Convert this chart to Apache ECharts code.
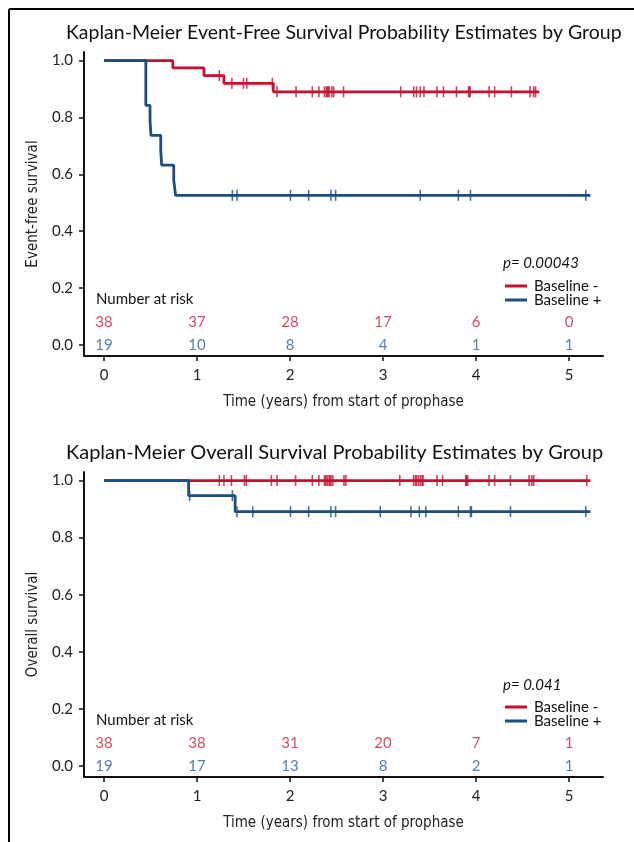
<!DOCTYPE html>
<html><head><meta charset="utf-8">
<script src="https://cdn.jsdelivr.net/npm/echarts@6/dist/echarts.min.js"></script>
<style>html,body{margin:0;padding:0;background:#fff}#c{width:634px;height:842px}</style>
</head><body><div id="c"></div>
<script>
// ---- data ----
const xTicks = [0, 1, 2, 3, 4, 5];
const yTicks = [0, 0.2, 0.4, 0.6, 0.8, 1.0];

// Event-free survival
const efsRedEventT = [0.74, 1.075, 1.29, 1.82];
const efsRedEventS = [0.974, 0.947, 0.920, 0.890];
const efsRedEnd = 4.68;
const efsRedCens = [1.24, 1.375, 1.50, 1.535, 1.81, 1.86, 2.065, 2.24, 2.31, 2.37, 2.39, 2.40, 2.41, 2.42, 2.45, 2.47, 2.575,
  3.19, 3.33, 3.36, 3.40, 3.44, 3.58, 3.65, 3.79, 3.92, 3.93, 3.935, 4.14, 4.20, 4.38, 4.58, 4.62, 4.64];
const efsBlueEventT = [0.45, 0.495, 0.505, 0.61, 0.62, 0.75, 0.77];
const efsBlueEventS = [0.842, 0.789, 0.737, 0.684, 0.632, 0.579, 0.526];
const efsBlueEnd = 5.23;
const efsBlueCens = [1.38, 1.43, 2.005, 2.20, 2.44, 2.49, 3.40, 3.81, 3.94, 5.18];
const efsRiskRed = [38, 37, 28, 17, 6, 0];
const efsRiskBlue = [19, 10, 8, 4, 1, 1];

// Overall survival
const osRedEventT = [];
const osRedEventS = [];
const osRedEnd = 5.23;
const osRedCens = [1.24, 1.29, 1.37, 1.51, 1.53, 1.80, 1.86, 2.06, 2.24, 2.31, 2.37, 2.385, 2.40, 2.42, 2.43, 2.44, 2.46, 2.58, 2.60,
  3.18, 3.33, 3.35, 3.36, 3.38, 3.40, 3.42, 3.43, 3.58, 3.64, 3.89, 3.90, 3.91, 4.14, 4.20, 4.37, 4.57, 4.60, 4.62, 5.19];
const osBlueEventT = [0.91, 1.41];
const osBlueEventS = [0.947, 0.891];
const osBlueEnd = 5.23;
const osBlueCens = [0.92, 1.38, 1.43, 1.60, 2.005, 2.20, 2.44, 2.49, 2.97, 3.30, 3.39, 3.46, 3.81, 3.94, 3.95, 4.37, 5.18];
const osRiskRed = [38, 38, 31, 20, 7, 1];
const osRiskBlue = [19, 17, 13, 8, 2, 1];

const titles = ['Kaplan-Meier Event-Free Survival Probability Estimates by Group',
                'Kaplan-Meier Overall Survival Probability Estimates by Group'];
const yNames = ['Event-free survival', 'Overall survival'];
const xName = 'Time (years) from start of prophase';
const pValues = ['p= 0.00043', 'p= 0.041'];
const legendNames = ['Baseline -', 'Baseline +'];

// ---- styling ----
const RED = '#C8102E', BLUE = '#1B4C82';
const RED_T = '#D01A3C', BLUE_T = '#2B5D98';
const FONT = 'Lato, "Noto Sans", sans-serif';
const NARROW = '"Liberation Sans Narrow", "DejaVu Sans Condensed", sans-serif';

function steps(evT, evS, end) {
  const pts = [[0, 1]];
  for (let i = 0; i < evT.length; i++) pts.push([evT[i], evS[i]]);
  pts.push([end, evS.length ? evS[evS.length - 1] : 1]);
  return pts;
}
function survAt(evT, evS, t) {
  let s = 1;
  for (let i = 0; i < evT.length; i++) if (evT[i] <= t) s = evS[i];
  return s;
}
function cens(evT, evS, times) { return times.map(t => [t, survAt(evT, evS, t)]); }

const groups = [
  {red: [efsRedEventT, efsRedEventS, efsRedEnd, efsRedCens], blue: [efsBlueEventT, efsBlueEventS, efsBlueEnd, efsBlueCens], riskR: efsRiskRed, riskB: efsRiskBlue},
  {red: [osRedEventT, osRedEventS, osRedEnd, osRedCens], blue: [osBlueEventT, osBlueEventS, osBlueEnd, osBlueCens], riskR: osRiskRed, riskB: osRiskBlue}
];

const grids = [{left: 84, right: 31, top: 52, height: 304}, {left: 84, right: 31, top: 472, height: 305}];
const xAxes = [], yAxes = [], series = [];
grids.forEach((g, i) => {
  xAxes.push({
    type: 'value', gridIndex: i, min: -0.215, max: 5.365,
    name: xName, nameLocation: 'middle', nameGap: 39,
    nameTextStyle: {fontFamily: NARROW, fontSize: 15, color: '#222'},
    axisLine: {show: true, onZero: false, lineStyle: {color: '#111', width: 2}},
    axisTick: {show: true, length: 5, inside: false, customValues: xTicks, lineStyle: {color: '#111', width: 1.5}},
    axisLabel: {customValues: xTicks, fontFamily: FONT, fontSize: 15, color: '#222', margin: 12},
    splitLine: {show: false}
  });
  yAxes.push({
    type: 'value', gridIndex: i, min: -0.039, max: 1.03,
    name: yNames[i], nameLocation: 'middle', nameGap: 43, nameRotate: 90,
    nameTextStyle: {fontFamily: NARROW, fontSize: 15, color: '#222'},
    axisLine: {show: true, onZero: false, lineStyle: {color: '#111', width: 2}},
    axisTick: {show: true, length: 5, customValues: yTicks, lineStyle: {color: '#111', width: 1.5}},
    axisLabel: {customValues: yTicks, fontFamily: FONT, fontSize: 15, color: '#222', margin: 11,
      formatter: v => v.toFixed(1)},
    splitLine: {show: false}
  });
  const G = groups[i];
  [['red', RED], ['blue', BLUE]].forEach(([k, col]) => {
    const d = G[k];
    series.push({type: 'line', xAxisIndex: i, yAxisIndex: i, step: 'end', data: steps(d[0], d[1], d[2]),
      showSymbol: false, symbol: 'none', lineStyle: {color: col, width: 2.8}, silent: true, animation: false, z: k === 'blue' ? 3 : 2});
    series.push({type: 'scatter', xAxisIndex: i, yAxisIndex: i, data: cens(d[0], d[1], d[3]),
      symbol: 'rect', symbolSize: [1.6, 11], itemStyle: {color: col}, silent: true, animation: false, z: k === 'blue' ? 4 : 3});
  });
  [[G.riskR, 0.08, RED_T], [G.riskB, 0.0, BLUE_T]].forEach(([arr, yv, col]) => {
    series.push({type: 'scatter', xAxisIndex: i, yAxisIndex: i, symbolSize: 0,
      data: xTicks.map((x, j) => [x, yv, arr[j]]),
      label: {show: true, position: 'inside', formatter: p => String(p.value[2]), color: col, fontFamily: FONT, fontSize: 15},
      silent: true, animation: false});
  });
});

const graphic = [
  {type: 'line', shape: {x1: 9, y1: 9, x2: 634, y2: 9}, style: {stroke: '#000', lineWidth: 2}},
  {type: 'line', shape: {x1: 9, y1: 9, x2: 9, y2: 842}, style: {stroke: '#000', lineWidth: 2}}
];
const titleY = [33, 453], pY = [263, 685], legY = [286, 707], narY = [299, 720];
const titleSize = [19.5, 20];
for (let i = 0; i < 2; i++) {
  graphic.push({type: 'text', x: 66, y: titleY[i], style: {text: titles[i], font: titleSize[i] + 'px ' + FONT, fill: '#111', verticalAlign: 'middle'}});
  graphic.push({type: 'text', x: 503, y: pY[i], style: {text: pValues[i], font: 'italic 15px ' + FONT, fill: '#111', verticalAlign: 'middle'}});
  [[RED, 0], [BLUE, 14]].forEach(([col, dy], j) => {
    graphic.push({type: 'line', shape: {x1: 505, y1: legY[i] + dy, x2: 527, y2: legY[i] + dy}, style: {stroke: col, lineWidth: 3}});
    graphic.push({type: 'text', x: 534, y: legY[i] + dy, style: {text: legendNames[j], font: '15px ' + FONT, fill: '#111', verticalAlign: 'middle'}});
  });
  graphic.push({type: 'text', x: 96, y: narY[i], style: {text: 'Number at risk', font: '15px ' + FONT, fill: '#111', verticalAlign: 'middle'}});
}

const chart = echarts.init(document.getElementById('c'));
chart.setOption({animation: false, grid: grids, xAxis: xAxes, yAxis: yAxes, series: series, graphic: graphic});
</script></body></html>
